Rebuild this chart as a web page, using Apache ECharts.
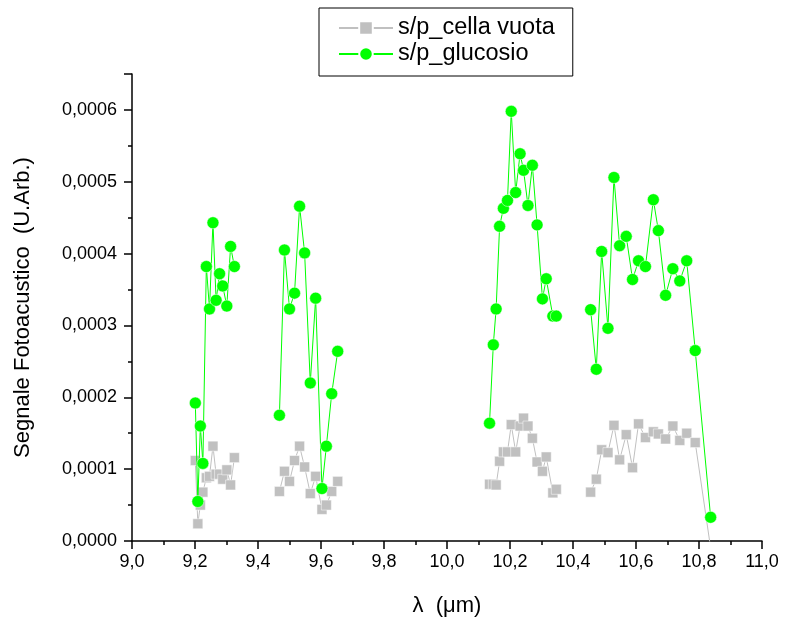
<!DOCTYPE html>
<html>
<head>
<meta charset="utf-8">
<script src="https://cdn.jsdelivr.net/npm/echarts@6/dist/echarts.min.js"></script>
<style>
html,body{margin:0;padding:0;background:#fff;}
#chart{width:786px;height:632px;}
</style>
</head>
<body>
<div id="chart"></div>
<script>
// Wavelengths (µm); null separates the four laser-line groups
var wavelength = [
  9.201, 9.209, 9.217, 9.225, 9.236, 9.246, 9.257, 9.267, 9.278, 9.288, 9.301, 9.313, 9.325,
  null,
  9.468, 9.484, 9.500, 9.516, 9.532, 9.548, 9.566, 9.583, 9.603, 9.617, 9.634, 9.653,
  null,
  10.135, 10.147, 10.156, 10.167, 10.179, 10.192, 10.204, 10.218, 10.232, 10.243, 10.257, 10.271, 10.286, 10.303, 10.315, 10.336, 10.347,
  null,
  10.456, 10.474, 10.491, 10.511, 10.530, 10.548, 10.569, 10.589, 10.608, 10.630, 10.655, 10.671, 10.694, 10.717, 10.739, 10.761, 10.788, 10.837
];
var cellaVuota = [
  0.000112, 0.000024, 0.000050, 0.000068, 0.000088, 0.000090, 0.000132, 0.000093, 0.000093, 0.000086, 0.000099, 0.000078, 0.000116,
  null,
  0.000069, 0.000097, 0.000083, 0.000112, 0.000132, 0.000103, 0.000066, 0.000090, 0.000044, 0.000050, 0.000069, 0.000083,
  null,
  0.000079, 0.000079, 0.000078, 0.000111, 0.000124, 0.000124, 0.000162, 0.000124, 0.000160, 0.000171, 0.000160, 0.000143, 0.000110, 0.000097, 0.000117, 0.000067, 0.000072,
  null,
  0.000068, 0.000086, 0.000127, 0.000123, 0.000161, 0.000113, 0.000148, 0.000102, 0.000163, 0.000144, 0.000152, 0.000149, 0.000142, 0.000160, 0.000140, 0.000150, 0.000137, -0.000010
];
var glucosio = [
  0.000192, 0.000055, 0.000160, 0.000108, 0.000382, 0.000323, 0.000443, 0.000335, 0.000372, 0.000355, 0.000327, 0.000410, 0.000382,
  null,
  0.000175, 0.000405, 0.000323, 0.000345, 0.000466, 0.000401, 0.000220, 0.000338, 0.000073, 0.000132, 0.000205, 0.000264,
  null,
  0.000164, 0.000273, 0.000323, 0.000438, 0.000463, 0.000474, 0.000598, 0.000485, 0.000539, 0.000516, 0.000467, 0.000523, 0.000440, 0.000337, 0.000365, 0.000313, 0.000313,
  null,
  0.000322, 0.000239, 0.000403, 0.000296, 0.000506, 0.000411, 0.000424, 0.000364, 0.000390, 0.000382, 0.000475, 0.000432, 0.000342, 0.000379, 0.000362, 0.000390, 0.000265, 0.000033
];
var seriesNames = ['s/p_cella vuota', 's/p_glucosio'];
var xAxisTitle = 'λ  (μm)';
var yAxisTitle = 'Segnale Fotoacustico  (U.Arb.)';

function pairs(xs, ys) {
  return xs.map(function (x, i) {
    return (x === null || ys[i] === null) ? ['-', '-'] : [x, ys[i]];
  });
}

var FONT = "'Liberation Sans', Arial, sans-serif";
var chart = echarts.init(document.getElementById('chart'));
chart.setOption({
  animation: false,
  backgroundColor: '#ffffff',
  textStyle: { fontFamily: FONT, color: '#000' },
  grid: { left: 132, right: 24, top: 74, bottom: 91, containLabel: false },
  legend: {
    orient: 'vertical',
    left: 319,
    top: 8,
    padding: [8, 18, 10, 19],
    itemGap: 2,
    itemWidth: 54,
    itemHeight: 17,
    borderColor: '#000',
    borderWidth: 1,
    textStyle: { fontFamily: FONT, fontSize: 23.5, color: '#000' },
    data: seriesNames
  },
  xAxis: {
    type: 'value',
    min: 9, max: 11, interval: 0.2,
    name: xAxisTitle,
    nameLocation: 'middle',
    nameGap: 54,
    nameTextStyle: { fontFamily: FONT, fontSize: 22, color: '#000' },
    axisLine: { lineStyle: { color: '#000', width: 1.5 } },
    axisTick: { length: 8, lineStyle: { color: '#000', width: 1.5 } },
    minorTick: { show: true, splitNumber: 2, length: 4, lineStyle: { color: '#000', width: 1.5 } },
    splitLine: { show: false },
    axisLabel: {
      fontFamily: FONT, fontSize: 18, color: '#000', margin: 12,
      formatter: function (v) { return v.toFixed(1).replace('.', ','); }
    }
  },
  yAxis: {
    type: 'value',
    min: 0, max: 0.00065, interval: 0.0001,
    name: yAxisTitle,
    nameLocation: 'middle',
    nameGap: 98,
    nameTextStyle: { fontFamily: FONT, fontSize: 22, color: '#000' },
    axisLine: { show: true, lineStyle: { color: '#000', width: 1.5 } },
    axisTick: { show: true, length: 8, lineStyle: { color: '#000', width: 1.5 } },
    minorTick: { show: true, splitNumber: 2, length: 4, lineStyle: { color: '#000', width: 1.5 } },
    splitLine: { show: false },
    axisLabel: {
      fontFamily: FONT, fontSize: 18, color: '#000', margin: 15, showMaxLabel: false,
      formatter: function (v) {
        var k = Math.round(v / 0.0001);
        if (Math.abs(v - k * 0.0001) > 1e-9) return '';
        return (k * 0.0001).toFixed(4).replace('.', ',');
      }
    }
  },
  series: [
    {
      name: seriesNames[0],
      type: 'line',
      data: pairs(wavelength, cellaVuota),
      connectNulls: false,
      clip: true,
      symbol: 'rect',
      symbolSize: 10,
      showAllSymbol: true,
      lineStyle: { color: '#C0C0C0', width: 1 },
      itemStyle: { color: '#C0C0C0', borderColor: '#ffffff', borderWidth: 0.5 },
      z: 2
    },
    {
      name: seriesNames[1],
      type: 'line',
      data: pairs(wavelength, glucosio),
      connectNulls: false,
      clip: true,
      symbol: 'circle',
      symbolSize: 12,
      showAllSymbol: true,
      lineStyle: { color: '#00FF00', width: 1 },
      itemStyle: { color: '#00FF00', borderColor: '#ffffff', borderWidth: 0.5 },
      z: 3
    }
  ]
});
</script>
</body>
</html>
